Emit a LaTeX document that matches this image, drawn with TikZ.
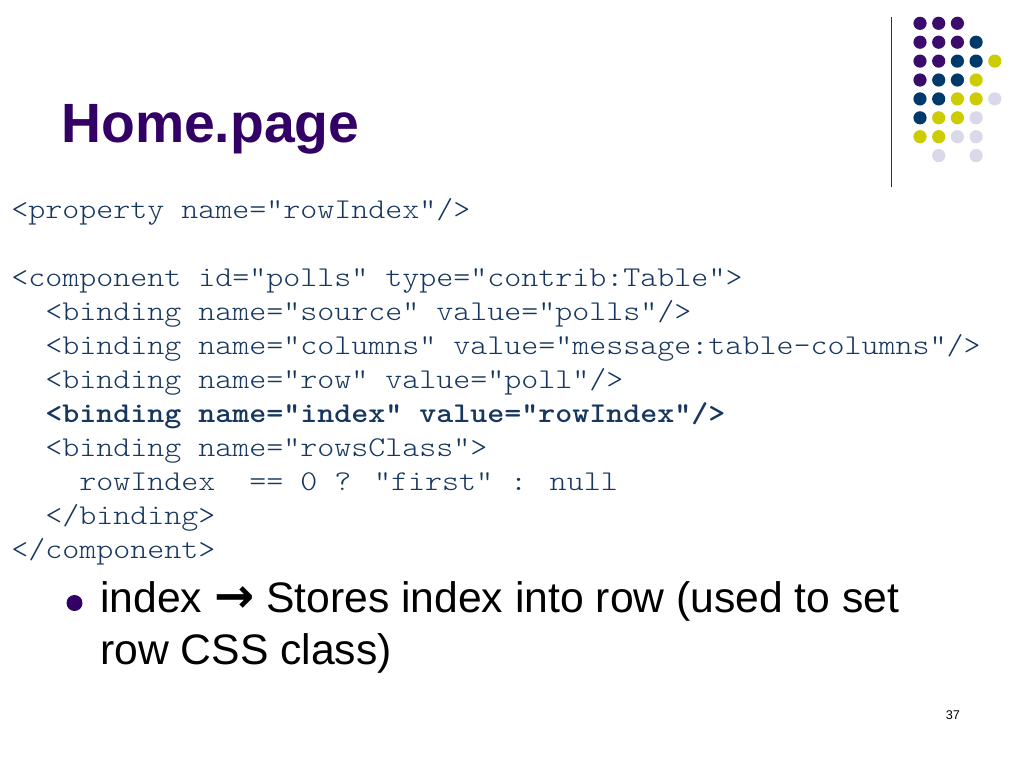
\documentclass[tikz,border=0pt]{standalone}
\usepackage{fontspec}
\setmainfont{Liberation Sans}
\newfontfamily\codefont{lmmonolt10-regular.otf}[BoldFont=lmmonolt10-bold.otf,FakeStretch=1.13,Ligatures=NoCommon]
\newfontfamily\arrowfont{DejaVu Sans}
\definecolor{ttl}{HTML}{330066}
\definecolor{dpurple}{HTML}{3B0C6C}
\definecolor{dnavy}{HTML}{003A6B}
\definecolor{dyellow}{HTML}{CCCC00}
\definecolor{dlav}{HTML}{D9D9EA}
\definecolor{codec}{HTML}{17375E}
\tikzset{
  codeline/.style={anchor=base west,inner sep=0pt,text=codec,font=\codefont\fontsize{21.5pt}{25pt}\selectfont},
  bodyline/.style={anchor=base west,inner sep=0pt,text=black,font=\fontsize{32pt}{38pt}\selectfont},
  dotP/.style={fill=dpurple},
  dotB/.style={fill=dnavy},
  dotY/.style={fill=dyellow},
  dotL/.style={fill=dlav},
}
\begin{document}
\begin{tikzpicture}[x=0.75pt,y=-0.75pt]
\useasboundingbox (0,0) rectangle (1024,768);
\fill[white] (0,0) rectangle (1024,768);
% decorative dots
\def\dotrow#1#2{%
  \foreach \c/\k in {#2}{%
    \fill[dot\k] ({920+18.7*\c},{23.3+18.9*#1}) circle (6.6);
  }%
}
\dotrow{0}{0/P,1/P,2/P}
\dotrow{1}{0/P,1/P,2/P,3/B}
\dotrow{2}{0/P,1/P,2/B,3/B,4/Y}
\dotrow{3}{0/P,1/B,2/B,3/Y}
\dotrow{4}{0/B,1/B,2/Y,3/Y,4/L}
\dotrow{5}{0/B,1/Y,2/Y,3/L}
\dotrow{6}{0/Y,1/Y,2/L,3/L}
\dotrow{7}{1/L,3/L}
\coordinate (vtop) at (891.7,17);
\coordinate (vbot) at (891.7,187);
\draw[line width=1.1pt,black!80] (vtop) -- (vbot);
% title
\node[anchor=base west,inner sep=0pt,text=ttl,font=\bfseries\fontsize{41.5pt}{48pt}\selectfont] (title) at (61,142) {Home.page};
% code
\node[codeline] (c1) at (11,218) {<property name="rowIndex"/>};
\node[codeline] (c2) at (11,286) {<component id="polls" type="contrib:Table">};
\node[codeline] (c3) at (45,320) {<binding name="source" value="polls"/>};
\node[codeline] (c4) at (45,354) {<binding name="columns" value="message:table-columns"/>};
\node[codeline] (c5) at (45,388) {<binding name="row" value="poll"/>};
\node[codeline,font=\codefont\bfseries\fontsize{21.5pt}{25pt}\selectfont] (c6) at (45,422) {<binding name="index" value="rowIndex"/>};
\node[codeline] (c7) at (45,456) {<binding name="rowsClass">};
\node[codeline] (c8) at (79,490) {rowIndex\ \ == 0 ? "first" : null};
\node[codeline] (c9) at (45,524) {</binding>};
\node[codeline] (c10) at (11,558) {</component>};
% bullet
\fill[ttl] (74.5,603) circle (8);
\node[bodyline] (b1) at (100,612) {index {\arrowfont\bfseries\fontsize{36pt}{38pt}\selectfont →} Stores index into row (used to set};
\node[bodyline] (b2) at (100,664) {row CSS class)};
% page number
\node[anchor=base west,inner sep=0pt,font=\fontsize{9.5pt}{11pt}\selectfont] (pg) at (945.5,719) {37};
\end{tikzpicture}
\end{document}
